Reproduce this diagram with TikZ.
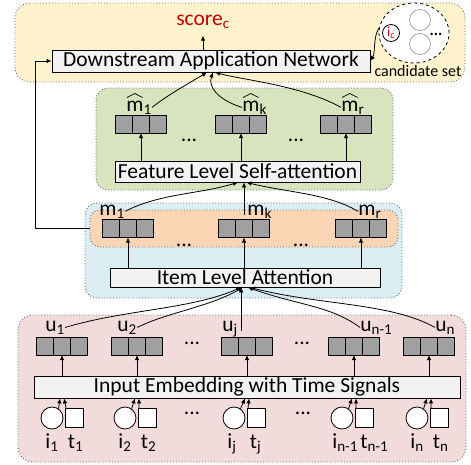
\documentclass[tikz,border=0pt]{standalone}
\usepackage{fontspec}
\setmainfont{Carlito}
\usetikzlibrary{arrows.meta,shapes.geometric,calc}
\definecolor{pyel}{HTML}{FFF2CC}
\definecolor{pgrn}{HTML}{D7E4BD}
\definecolor{pblu}{HTML}{DBEEF4}
\definecolor{pora}{HTML}{FCD5B5}
\definecolor{ppnk}{HTML}{F2DCDB}
\definecolor{boxf}{HTML}{F2F2F2}
\definecolor{cellf}{HTML}{A0A0A0}
\definecolor{scred}{HTML}{C00000}
\definecolor{circg}{HTML}{A6A6A6}
\newcommand\lsub[1]{\textsubscript{#1}}
\newcommand\mkvec[3]{%
 \node[cell] (#1b) at (#2,#3) {};
 \node[cell,anchor=east] (#1a) at (#1b.west) {};
 \node[cell,anchor=west] (#1c) at (#1b.east) {};}
\newcommand\mkhat[1]{%
 \draw[line width=0.7pt] ($(#1.base west)+(1,-13.5)$) -- ($(#1.base west)+(8.8,-17.5)$) -- ($(#1.base west)+(16.6,-13.5)$);}
\newcommand\mkitem[7]{% name, circle x, vector name, i label, t label, i shift, t shift
 \node[itemc] (ci#1) at (#2,418) {};
 \node[items] (sq#1) at (#2+22.5,418) {};
 \node[lbl] (li#1) at (#2-7+#6,448) {#4};
 \node[lbl] (lt#1) at (#2+15.5+#7,448) {#5};
 \draw[arr] (ci#1.55) -- ($(#3b.center |- iets.south)+(-2,0)$);
 \draw[arr] ([xshift=1pt]sq#1.north west) -- ($(#3b.center |- iets.south)+(2,0)$);}
\begin{document}
\begin{tikzpicture}[x=1pt,y=-1pt,line width=0.8pt,
  font=\fontsize{21.5}{25}\selectfont,
  panel/.style={draw=black!60,dotted,rounded corners=12pt,line width=0.9pt,inner sep=0pt},
  box/.style={draw=black,fill=boxf,inner sep=0pt,line width=0.8pt},
  cell/.style={draw=black,fill=cellf,minimum width=17pt,minimum height=18pt,inner sep=0pt,outer sep=0pt},
  arr/.style={-{Latex[length=5pt,width=4.5pt]},line width=0.8pt},
  lbl/.style={inner sep=0pt,anchor=base west},
  dotsn/.style={inner sep=0pt,anchor=base},
  itemc/.style={circle,draw=black,fill=white,minimum size=22pt,inner sep=0pt},
  items/.style={rectangle,draw=black,fill=white,minimum width=18pt,minimum height=19pt,inner sep=0pt}]
\useasboundingbox (0,0) rectangle (471,464);

% panels
\node[panel,fill=pyel,minimum width=450pt,minimum height=79pt,rounded corners=15pt] (pyellow) at (240,42.5) {};
\node[panel,fill=pgrn,minimum width=297pt,minimum height=102pt] (pgreen) at (244.5,139) {};
\node[panel,fill=pblu,minimum width=317pt,minimum height=95pt] (pblue) at (243.5,250.5) {};
\node[panel,fill=pora,minimum width=308pt,minimum height=37pt,rounded corners=10pt] (porange) at (244,228.5) {};
\node[panel,fill=ppnk,minimum width=448pt,minimum height=147pt,rounded corners=15pt] (ppink) at (242,388.5) {};

% top
\node[box,minimum width=318pt,minimum height=22pt] (dan) at (211,61) {Downstream Application Network};
\node[text=scred,inner sep=0pt] (score) at (203,22) {score\lsub{c}};
\draw[arr] (score.south |- dan.north) -- ++(0,-14);
\node[ellipse,draw=black,dashed,fill=white,minimum width=70pt,minimum height=60pt,inner sep=0pt] (cset) at (414,33) {};
\node[circle,draw=circg,fill=white,minimum size=21pt,inner sep=0pt] (cg1) at (420,20) {};
\node[circle,draw=circg,fill=white,minimum size=21pt,inner sep=0pt] (cg2) at (420,44) {};
\node[circle,draw=black,fill=white,minimum size=17pt,inner sep=0pt,text=scred,font=\fontsize{14}{16}\selectfont] (ic) at (391,33) {i\lsub{c}};
\node[inner sep=0pt,anchor=base,font=\fontsize{16}{18}\selectfont\bfseries] (cdots) at (436,35) {...};
\node[inner sep=0pt,font=\fontsize{16}{18}\selectfont] (cstext) at (418,71) {candidate set};
\draw[arr] (cset.172) .. controls +(-6,8) and +(5,-8) .. (dan.east);
\draw[arr] (porange.west) -- ++(-54,0) |- (dan.west);

% green
\node[box,minimum width=245pt,minimum height=21pt] (fls) at (237.5,171.5) {Feature Level Self-attention};
\mkvec{hm1}{141}{124}
\mkvec{hmk}{241}{124}
\mkvec{hmr}{346}{124}
\foreach \v in {hm1,hmk,hmr} \draw[arr] (\v b.south |- fls.north) -- (\v b.south);
\node[lbl] (lhm1) at (126,111) {m\lsub{1}};
\node[lbl] (lhmk) at (242,111) {m\lsub{k}};
\node[lbl] (lhmr) at (341,111) {m\lsub{r}};
\mkhat{lhm1}
\mkhat{lhmk}
\mkhat{lhmr}
\node[dotsn] (gd1) at (189,141.5) {...};
\node[dotsn] (gd2) at (296,141.5) {...};
\draw[arr] (lhm1.east) .. controls +(15,-12) and +(-20,12) .. ([xshift=-4pt]dan.south);
\draw[arr] (lhmk.west) .. controls +(-25,-8) and +(-5,14) .. ([xshift=2pt]dan.south);
\draw[arr] (lhmr.west) .. controls +(-40,-22) and +(30,8) .. ([xshift=4pt]dan.south);

% blue / orange
\node[box,minimum width=270pt,minimum height=19pt] (ila) at (245,277.5) {Item Level Attention};
\mkvec{m1}{128}{228.5}
\mkvec{mk}{244}{228.5}
\mkvec{mr}{361}{228.5}
\foreach \v in {m1,mk,mr} \draw[arr] (\v b.south |- ila.north) -- (\v b.south);
\node[lbl] (lm1) at (99,215) {m\lsub{1}};
\node[lbl] (lmk) at (247,215) {m\lsub{k}};
\node[lbl] (lmr) at (358,215) {m\lsub{r}};
\node[dotsn] (od1) at (184,246.5) {...};
\node[dotsn] (od2) at (301,246.5) {...};
\draw[arr] (lm1.east) .. controls +(35,-18) and +(-40,12) .. ([xshift=0.5pt]fls.south);
\draw[arr] ($(lmk.base west)+(-3,0)$) -- ($(lmk.base west |- fls.south)+(-3,0)$);
\draw[arr] (lmr.west) .. controls +(-30,-18) and +(40,10) .. ([xshift=9pt]fls.south);

% pink
\node[box,minimum width=426pt,minimum height=22pt] (iets) at (247,387) {Input Embedding with Time Signals};
\mkvec{u1}{62}{346}
\mkvec{u2}{137}{346}
\mkvec{uj}{247}{346}
\mkvec{un1}{354}{346}
\mkvec{un}{429}{346}
\foreach \v in {u1,u2,uj,un1,un} \draw[arr] (\v b.south |- iets.north) -- (\v b.south);
\node[lbl] (lu1) at (45,331) {u\lsub{1}};
\node[lbl] (lu2) at (117,331) {u\lsub{2}};
\node[lbl] (luj) at (222,331) {u\lsub{j}};
\node[lbl] (lun1) at (360,331) {u\lsub{n-1}};
\node[lbl] (lun) at (435,331) {u\lsub{n}};
\node[dotsn] (pd1) at (192,344.5) {...};
\node[dotsn] (pd2) at (302,344.5) {...};
\node[dotsn] (pd3) at (192,414.5) {...};
\node[dotsn] (pd4) at (303,414.5) {...};
\draw[arr] (lu1.east) .. controls +(60,-18) and +(-50,22) .. ([xshift=-4pt]ila.south);
\draw[arr] (lu2.east) .. controls +(30,-15) and +(-35,20) .. ([xshift=-2pt]ila.south);
\draw[arr] ($(luj.base east)+(3,0)$) -- ($(luj.base east |- ila.south)+(3,0)$);
\draw[arr] (lun1.west) .. controls +(-30,-22) and +(50,18) .. ([xshift=3pt]ila.south);
\draw[arr] (lun.west) .. controls +(-45,-25) and +(70,18) .. ([xshift=5pt]ila.south);

\mkitem{1}{52}{u1}{i\lsub{1}}{t\lsub{1}}{0}{0}
\mkitem{2}{125}{u2}{i\lsub{2}}{t\lsub{2}}{0}{0}
\mkitem{j}{234}{uj}{i\lsub{j}}{t\lsub{j}}{0}{0}
\mkitem{n1}{342}{un1}{i\lsub{n-1}}{t\lsub{n-1}}{-3}{2.5}
\mkitem{n}{417}{un}{i\lsub{n}}{t\lsub{n}}{0}{0}
\end{tikzpicture}
\end{document}
